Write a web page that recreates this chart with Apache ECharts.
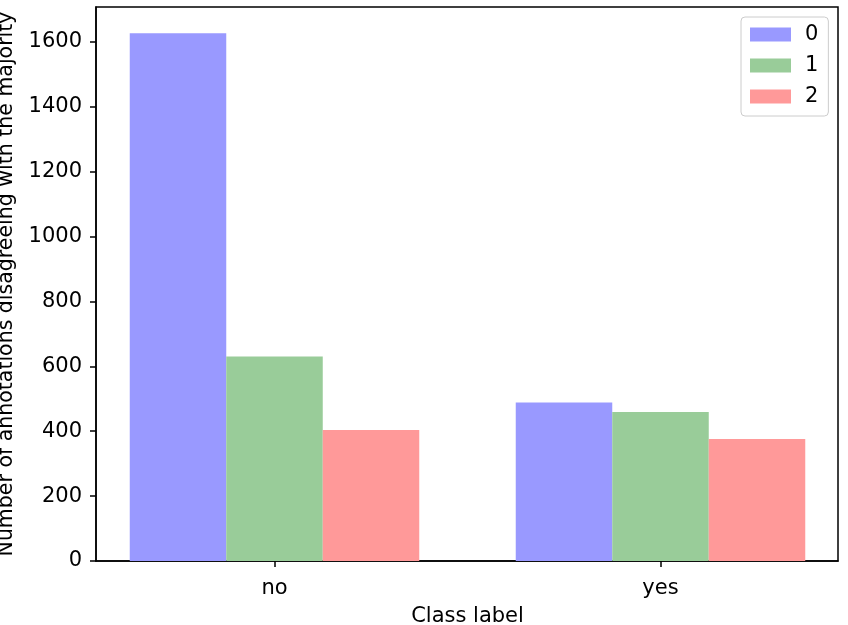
<!DOCTYPE html>
<html>
<head>
<meta charset="utf-8">
<script src="https://cdn.jsdelivr.net/npm/echarts@6/dist/echarts.min.js"></script>
<style>
  html, body { margin: 0; padding: 0; background: #fff; }
  #chart { width: 848px; height: 625px; }
</style>
</head>
<body>
<div id="chart"></div>
<script>
const categories = ['no', 'yes']
const seriesNames = ['0', '1', '2']
const values0 = [1626, 488]
const values1 = [630, 459]
const values2 = [404, 376]
const yTicks = [0, 200, 400, 600, 800, 1000, 1200, 1400, 1600]

const font = 'DejaVu Sans'
const fontSize = 21
const colors = ['#9999ff', '#99cc99', '#ff9999']
const yMax = 1707

const chart = echarts.init(document.getElementById('chart'), null, { renderer: 'canvas' })

const bar = (name, data, color) => ({
  type: 'bar',
  name,
  data,
  xAxisIndex: 1,
  yAxisIndex: 1,
  barWidth: '25%',
  barGap: '0%',
  itemStyle: { color },
  emphasis: { disabled: true },
})

chart.setOption({
  animation: false,
  textStyle: { fontFamily: font },
  grid: [
    // frame + y axis
    { left: 96, right: 10, top: 7, bottom: 64, outerBoundsMode: 'none', show: true, borderColor: '#000', borderWidth: 1.5, backgroundColor: 'transparent' },
    // bars, band width matched to matplotlib category spacing
    { left: 81.5, width: 772, top: 7, bottom: 64, outerBoundsMode: 'none' },
  ],
  legend: {
    orient: 'vertical',
    left: 741,
    top: 17,
    padding: [7, 10, 9, 9],
    itemWidth: 41,
    itemHeight: 14,
    itemGap: 10,
    icon: 'rect',
    backgroundColor: '#fff',
    borderColor: '#cccccc',
    borderWidth: 1,
    borderRadius: 4,
    data: seriesNames,
    textStyle: { fontFamily: font, fontSize, color: '#000', lineHeight: 21, padding: [0, 0, 0, 9] },
  },
  xAxis: [
    {
      type: 'value', gridIndex: 0, min: 0, max: 1,
      axisLine: { show: true, lineStyle: { color: '#000', width: 1.5 } },
      axisTick: { show: false }, axisLabel: { show: false }, splitLine: { show: false },
    },
    {
      type: 'category', gridIndex: 1, data: categories,
      axisLine: { show: false },
      axisTick: { show: true, alignWithLabel: true, length: 6, lineStyle: { color: '#000', width: 1.5 } },
      axisLabel: { fontFamily: font, fontSize, color: '#000', margin: 17 },
      name: 'Class label',
      nameLocation: 'middle',
      nameGap: 45,
      nameTextStyle: { fontFamily: font, fontSize, color: '#000' },
    },
  ],
  yAxis: [
    {
      type: 'value', gridIndex: 0, min: 0, max: yMax, interval: 200,
      axisLine: { show: true, lineStyle: { color: '#000', width: 1.5 } },
      axisTick: { show: true, length: 6, lineStyle: { color: '#000', width: 1.5 }, customValues: yTicks },
      axisLabel: { fontFamily: font, fontSize, color: '#000', margin: 14, customValues: yTicks, formatter: v => String(v) },
      splitLine: { show: false },
      name: 'Number of annotations disagreeing with the majority',
      nameLocation: 'middle',
      nameRotate: 90,
      nameGap: 75,
      nameTextStyle: { fontFamily: font, fontSize: 20.5, color: '#000' },
    },
    {
      type: 'value', gridIndex: 1, min: 0, max: yMax, show: false,
    },
  ],
  series: [
    bar(seriesNames[0], values0, colors[0]),
    bar(seriesNames[1], values1, colors[1]),
    bar(seriesNames[2], values2, colors[2]),
  ],
})
</script>
</body>
</html>
